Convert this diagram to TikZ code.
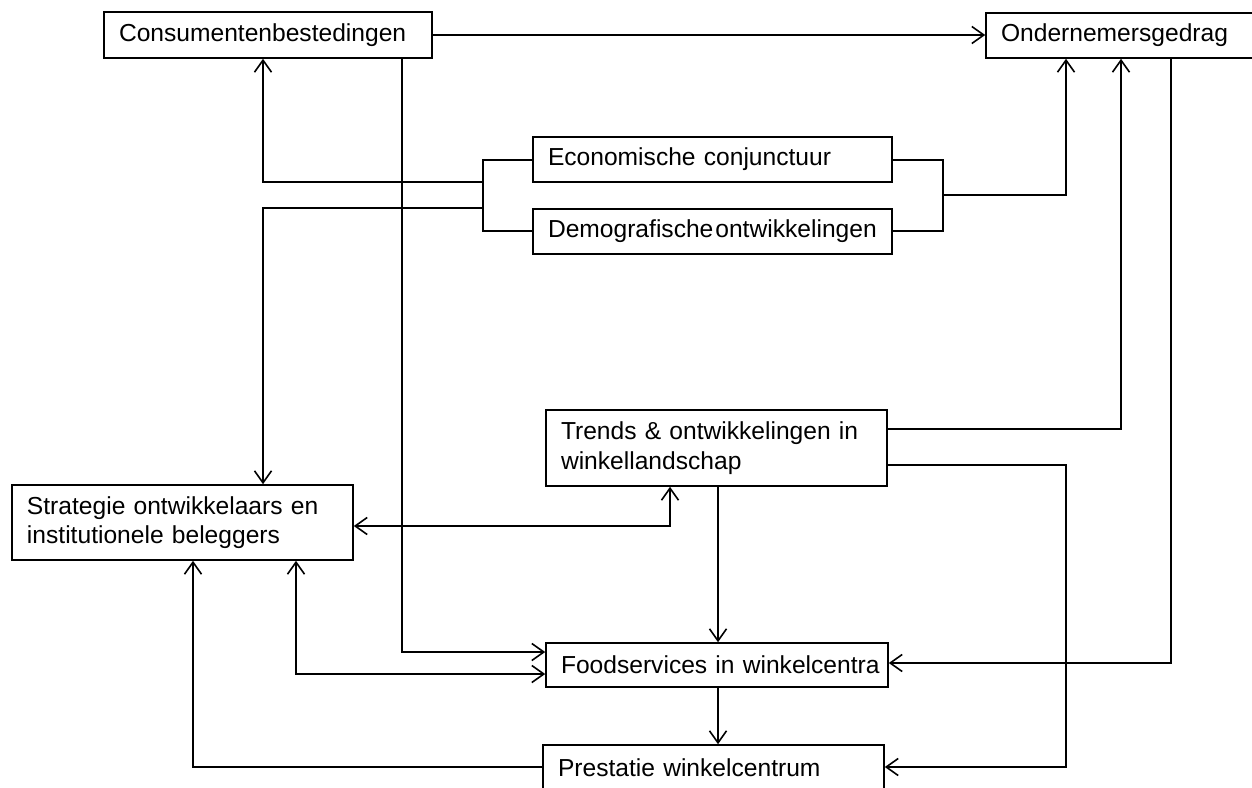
\documentclass[tikz,border=0pt]{standalone}
\usepackage{fontspec}
\setmainfont{Liberation Sans}
\usetikzlibrary{arrows.meta,calc}
\begin{document}
\begin{tikzpicture}[x=1pt,y=-1pt,
  box/.style={draw,line width=1.6pt,rectangle,inner xsep=15pt,inner ysep=0pt,
    align=left,font=\fontsize{24.6}{29.5}\selectfont,anchor=center},
  conn/.style={draw,line width=1.6pt},
  tip/.tip={Straight Barb[length=12pt,width=17pt,line width=1.6pt]},
  arr/.style={conn,-tip},
  darr/.style={conn,tip-tip}]
\useasboundingbox (0,0) rectangle (1252,787);
\clip (0,0) rectangle (1252,787);
% boxes
\node[box,text width=298pt,minimum height=46pt] (cons) at (268,35) {\mbox{Consumentenbestedingen}};
\node[box,text width=274pt,minimum height=45pt] (onder) at (1138,35.5) {\mbox{Ondernemersgedrag}};
\node[box,text width=329pt,minimum height=45pt] (eco) at (712.5,159.5) {\mbox{Economische conjunctuur}};
\node[box,text width=329pt,minimum height=45pt] (demo) at (712.5,231.5) {\mbox{Demografische\hspace{0.08em}ontwikkelingen}};
\node[box,text width=311pt,minimum height=76pt] (trends) at (716.5,448) {\mbox{Trends \& ontwikkelingen in}\\\mbox{winkellandschap}};
\node[box,text width=311pt,minimum height=75pt] (strat) at (182.5,522.5) {\mbox{Strategie ontwikkelaars en}\\\mbox{institutionele beleggers}};
\node[box,text width=312pt,minimum height=44pt] (food) at (717,665) {\mbox{Foodservices in winkelcentra}};
\node[box,text width=311pt,minimum height=45pt] (prest) at (713.5,767.5) {\mbox{Prestatie winkelcentrum}};
% helper coordinates
\coordinate (bl) at (483,195);
\coordinate (br) at (943,195);
% connectors
\draw[arr] (cons.east |- 0,35) -- (onder.west |- 0,35);
\draw[conn] (eco.west |- 0,160) -- (bl |- 0,160) -- (bl |- 0,231) -- (demo.west |- 0,231);
\draw[conn] (eco.east |- 0,160) -- (br |- 0,160) -- (br |- 0,231) -- (demo.east |- 0,231);
\draw[arr] (bl |- 0,182) -- (263,182) -- (cons.south -| 263,0);
\draw[arr] (bl |- 0,208) -- (263,208) -- (strat.north -| 263,0);
\draw[arr] (br) -- (1066,195) -- (onder.south -| 1066,0);
\draw[arr] (cons.south -| 402,0) -- (402,652) -- (food.west |- 0,652);
\draw[arr] (trends.east |- 0,429) -- (1121,429) -- (onder.south -| 1121,0);
\draw[arr] (trends.east |- 0,465) -- (1066,465) -- (1066,767) -- (prest.east |- 0,767);
\draw[arr] (onder.south -| 1171,0) -- (1171,663) -- (food.east |- 0,663);
\draw[darr] (strat.east |- 0,526) -- (670,526) -- (trends.south -| 670,0);
\draw[arr] (trends.south -| 718,0) -- (food.north -| 718,0);
\draw[darr] (strat.south -| 296,0) -- (296,674) -- (food.west |- 0,674);
\draw[arr] (food.south -| 718,0) -- (prest.north -| 718,0);
\draw[arr] (prest.west |- 0,767) -- (193,767) -- (strat.south -| 193,0);
\end{tikzpicture}
\end{document}
